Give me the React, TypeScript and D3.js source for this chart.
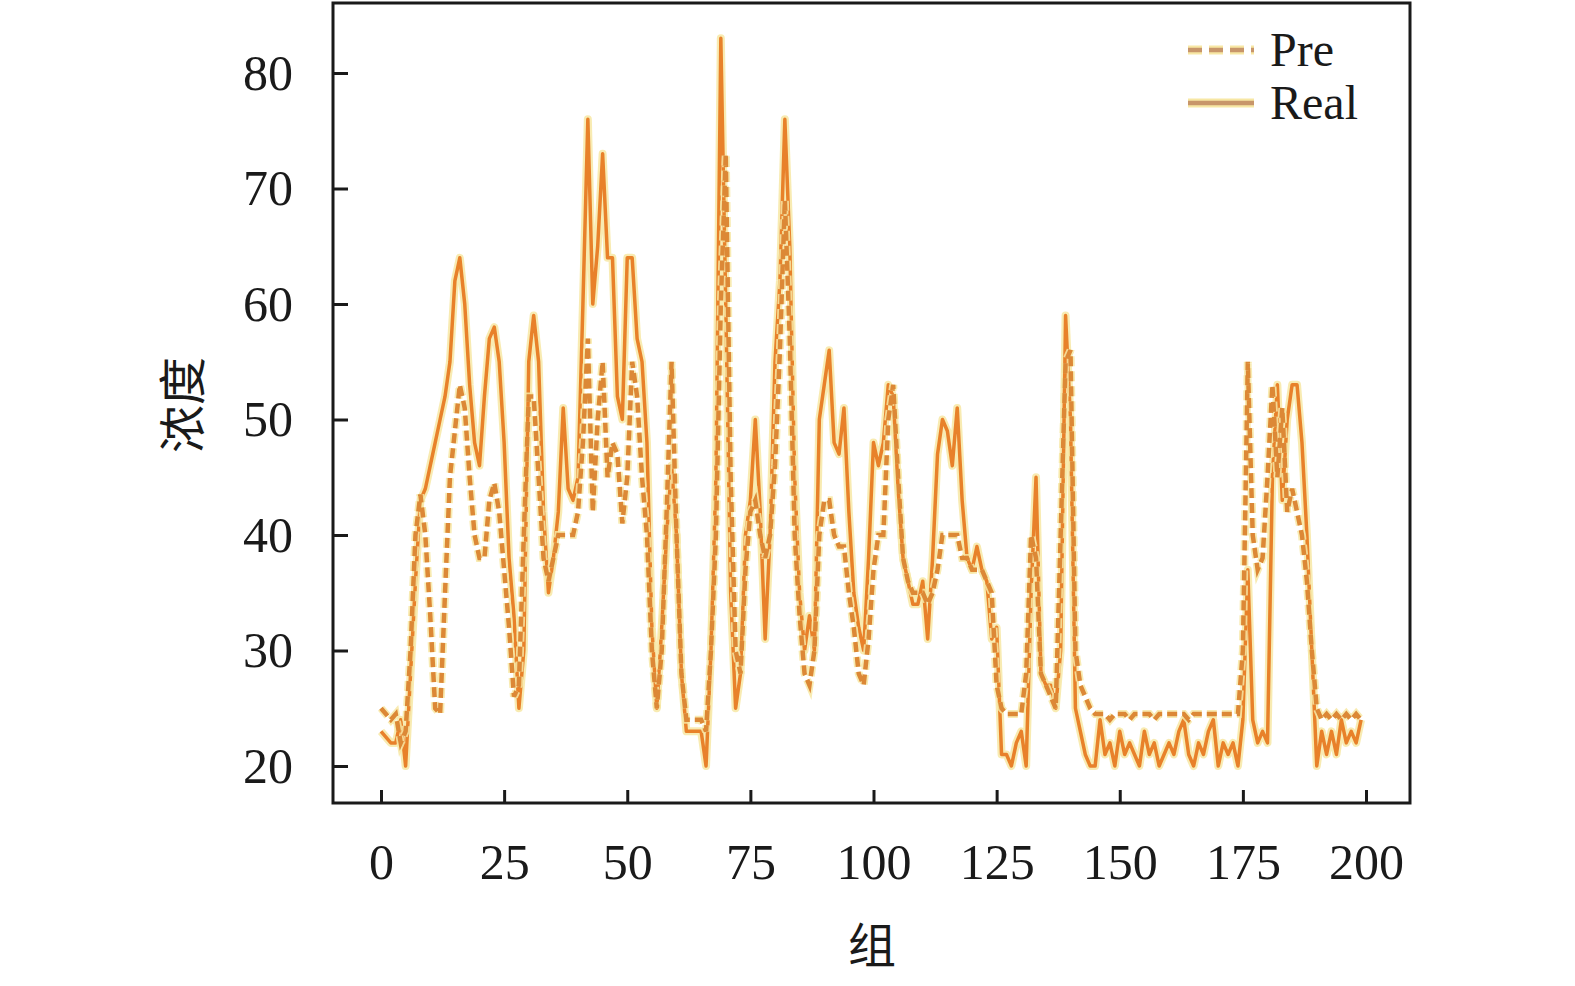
import React, { useEffect, useRef } from "react";
import * as d3 from "d3";

const xTicks = [0, 25, 50, 75, 100, 125, 150, 175, 200];
const yTicks = [20, 30, 40, 50, 60, 70, 80];

const realValues = [
  23, 22.5, 22, 22, 24, 20, 28, 36, 43, 44,
  46, 48, 50, 52, 55, 62, 64, 60, 53, 48,
  46, 52, 57, 58, 55, 48, 38, 33, 25, 30,
  55, 59, 55, 42, 35, 38, 42, 51, 44, 43,
  45, 60, 76, 60, 65, 73, 64, 64, 52, 50,
  64, 64, 57, 55, 48, 32, 25, 32, 40, 46,
  40, 28, 23, 23, 23, 23, 20, 30, 45, 83,
  60, 35, 25, 28, 40, 43, 50, 42, 31, 40,
  55, 62, 76, 65, 45, 35, 30, 33, 30, 50,
  53, 56, 48, 47, 51, 42, 35, 32, 30, 38,
  48, 46, 48, 53, 52, 44, 38, 36, 34, 34,
  36, 31, 38, 47, 50, 49, 46, 51, 43, 38,
  37, 39, 37, 36, 31, 32, 21, 21, 20, 22,
  23, 20, 35, 45, 28, 27, 27, 25, 30, 59,
  50, 25, 23, 21, 20, 20, 24, 21, 22, 20,
  23, 21, 22, 21, 20, 23, 21, 22, 20, 21,
  22, 21, 23, 24, 21, 20, 22, 21, 23, 24,
  20, 22, 21, 22, 20, 24, 37, 24, 22, 23,
  22, 45, 53, 43, 50, 53, 53, 48, 40, 30,
  20, 23, 21, 23, 21, 24, 22, 23, 22, 24,
];

const preValues = [
  25, 24.5, 24, 24.5, 22, 23, 30, 40, 43.5, 40,
  33, 25, 24.5, 35, 45, 49, 53, 51, 45, 40,
  38, 38, 43, 44.5, 42, 37, 32, 26, 27, 40,
  52, 52, 45, 38, 36, 38, 40, 40, 40, 40,
  42, 48, 57, 42, 50, 55, 45, 48, 47, 41,
  45, 55, 52, 45, 40, 30, 25, 30, 42, 55,
  40, 28, 24, 24, 24, 24, 23, 30, 40, 60,
  73, 45, 30, 28, 37, 42, 43, 40, 38, 40,
  46, 56, 69, 57, 40, 33, 28, 27, 30, 40,
  43, 43, 40, 39, 39, 35, 32, 28, 27, 31,
  37, 40, 40, 50, 53, 45, 38, 36, 35, 35,
  35, 34, 35, 37, 40, 40, 40, 40, 38, 38,
  37, 37, 37, 36, 35, 27, 25, 24.5, 24.5, 24.5,
  24.5, 28, 40, 38, 28, 27, 26, 25, 40, 55,
  56, 30, 27, 26, 25, 24.5, 24.5, 24.5, 24, 24.5,
  24.5, 24.5, 24, 24.5, 24.5, 24.5, 24.5, 24, 24.5, 24.5,
  24.5, 24.5, 24.5, 24.5, 24, 24.5, 24.5, 24.5, 24.5, 24.5,
  24.5, 24.5, 24.5, 24.5, 24.5, 30, 55, 40, 37, 38,
  45, 53, 45, 51, 42, 44, 42, 40, 36, 30,
  25, 24, 24.5, 24, 24.5, 24, 24.5, 24, 24.5, 24,
];

const seriesNames = ["Pre", "Real"];

export default function App() {
  const ref = useRef<SVGSVGElement | null>(null);

  useEffect(() => {
    const svg = d3.select(ref.current);
    svg.selectAll("*").remove();

    const x = d3.scaleLinear().domain([0, 200]).range([381, 1366]);
    const y = d3.scaleLinear().domain([20, 80]).range([766, 73]);
    const box = { left: 333, right: 1410, top: 3, bottom: 803 };
    const serif = "'Liberation Serif', 'Times New Roman', serif";
    const cjk = "'Noto Sans CJK SC', sans-serif";

    const line = d3
      .line<number>()
      .x((_, i) => x(i))
      .y((d) => y(d));

    const glow = "#F7E7A4";
    const orange = "#E8812A";
    const dashColor = "#DC8836";

    const g = svg.append("g");

    // Real (solid)
    g.append("path")
      .attr("d", line(realValues) as string)
      .attr("fill", "none")
      .attr("stroke", glow)
      .attr("stroke-width", 8)
      .attr("stroke-linejoin", "round")
      .attr("opacity", 0.85);
    g.append("path")
      .attr("d", line(realValues) as string)
      .attr("fill", "none")
      .attr("stroke", orange)
      .attr("stroke-width", 3.5)
      .attr("stroke-linejoin", "round");

    // Pre (dashed)
    g.append("path")
      .attr("d", line(preValues) as string)
      .attr("fill", "none")
      .attr("stroke", glow)
      .attr("stroke-width", 8)
      .attr("stroke-dasharray", "10,5")
      .attr("opacity", 0.85);
    g.append("path")
      .attr("d", line(preValues) as string)
      .attr("fill", "none")
      .attr("stroke", dashColor)
      .attr("stroke-width", 4.5)
      .attr("stroke-dasharray", "10,5");

    // Box
    svg
      .append("rect")
      .attr("x", box.left)
      .attr("y", box.top)
      .attr("width", box.right - box.left)
      .attr("height", box.bottom - box.top)
      .attr("fill", "none")
      .attr("stroke", "#1a1a1a")
      .attr("stroke-width", 3);

    // X axis
    const xAxis = d3
      .axisBottom(x)
      .tickValues(xTicks)
      .tickSizeInner(-13)
      .tickSizeOuter(0)
      .tickPadding(40)
      .tickFormat(d3.format("d"));
    const xg = svg.append("g").attr("transform", `translate(0,${box.bottom})`).call(xAxis);
    xg.select(".domain").remove();
    xg.selectAll(".tick line").attr("stroke", "#1a1a1a").attr("stroke-width", 3);
    xg.selectAll(".tick text")
      .attr("fill", "#1a1a1a")
      .attr("font-family", serif)
      .attr("font-size", 50);

    // Y axis
    const yAxis = d3
      .axisLeft(y)
      .tickValues(yTicks)
      .tickSizeInner(-15)
      .tickSizeOuter(0)
      .tickPadding(40)
      .tickFormat(d3.format("d"));
    const yg = svg.append("g").attr("transform", `translate(${box.left},0)`).call(yAxis);
    yg.select(".domain").remove();
    yg.selectAll(".tick line").attr("stroke", "#1a1a1a").attr("stroke-width", 3);
    yg.selectAll(".tick text")
      .attr("fill", "#1a1a1a")
      .attr("font-family", serif)
      .attr("font-size", 50);

    // Axis titles
    svg
      .append("text")
      .attr("x", 872)
      .attr("y", 963)
      .attr("text-anchor", "middle")
      .attr("font-family", cjk)
      .attr("font-size", 48)
      .attr("fill", "#1a1a1a")
      .text("组");
    svg
      .append("text")
      .attr("transform", "translate(200,405) rotate(-90)")
      .attr("text-anchor", "middle")
      .attr("font-family", cjk)
      .attr("font-size", 48)
      .attr("fill", "#1a1a1a")
      .text("浓度");

    // Legend
    const legendY = [50, 103];
    seriesNames.forEach((name, i) => {
      const ly = legendY[i];
      svg
        .append("line")
        .attr("x1", 1188)
        .attr("x2", 1254)
        .attr("y1", ly)
        .attr("y2", ly)
        .attr("stroke", glow)
        .attr("stroke-width", 9)
        .attr("stroke-dasharray", i === 0 ? "14,7" : null);
      svg
        .append("line")
        .attr("x1", 1188)
        .attr("x2", 1254)
        .attr("y1", ly)
        .attr("y2", ly)
        .attr("stroke", "#C8966A")
        .attr("stroke-width", 4.5)
        .attr("stroke-dasharray", i === 0 ? "14,7" : null);
      svg
        .append("text")
        .attr("x", 1270)
        .attr("y", ly + 16)
        .attr("font-family", serif)
        .attr("font-size", 48)
        .attr("fill", "#1a1a1a")
        .text(name);
    });
  }, []);

  return (
    <svg
      ref={ref}
      width={1575}
      height={986}
      style={{ position: "absolute", left: 0, top: 0, background: "#fff" }}
    />
  );
}
